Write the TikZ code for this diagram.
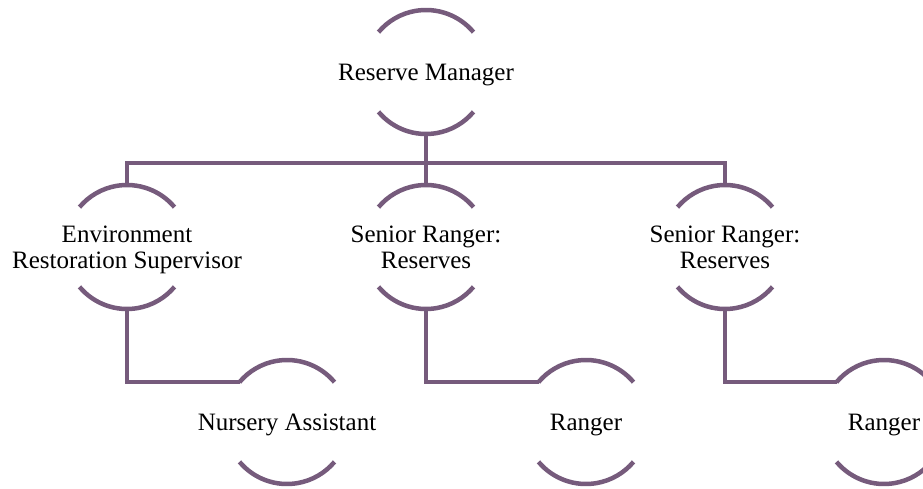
\documentclass[tikz,border=0pt]{standalone}
\usepackage{fontspec}
\setmainfont{Liberation Serif}
\usepackage{xcolor}
\usepackage{tikz}
\usetikzlibrary{positioning}

\definecolor{chartpurple}{RGB}{118,91,124}

\begin{document}
\begin{tikzpicture}
      [ x=1pt, y=1pt, on grid,
        role/.style={align=center, inner sep=0pt, text depth=0pt,
                     font=\fontsize{25}{26}\selectfont},
        ring/.style={draw=chartpurple, line width=4.5pt},
        link/.style={draw=chartpurple, line width=4.5pt}
      ]
      \useasboundingbox (0,0) rectangle (923,488);

      \node[role]  (rm)  at (426,416)                   {Reserve Manager};
      \node[role]  (sr1) [below=175pt of rm]            {Senior Ranger:\\Reserves};
      \node[role]  (ers) [left=299pt of sr1]            {Environment\\Restoration Supervisor};
      \node[role]  (sr2) [right=299pt of sr1]           {Senior Ranger:\\Reserves};
      \node[role]  (na)  [below right=175pt and 160pt of ers] {Nursery Assistant};
      \node[role]  (rg1) [below right=175pt and 160pt of sr1] {Ranger};
      \node[role]  (rg2) [below right=175pt and 159pt of sr2] {Ranger};

      % open circles round every role
      \foreach \n in {rm,ers,sr1,sr2,na,rg1,rg2}
        {
          \draw[ring] ([shift={(40:62pt)}]\n.center)  arc[start angle=40,  end angle=140, radius=62pt];
          \draw[ring] ([shift={(220:62pt)}]\n.center) arc[start angle=220, end angle=320, radius=62pt];
        }

      \coordinate (bus) at ([yshift=84pt]sr1.center);

      \draw[link] ([yshift=-62pt]rm.center)  -- (bus);
      \draw[link] ([yshift=62pt]ers.center)  |- (bus) -| ([yshift=62pt]sr2.center);
      \draw[link] ([yshift=62pt]sr1.center)  -- (bus);
      \draw[link] ([yshift=-62pt]ers.center) |- ([shift={(140:62pt)}]na.center);
      \draw[link] ([yshift=-62pt]sr1.center) |- ([shift={(140:62pt)}]rg1.center);
      \draw[link] ([yshift=-62pt]sr2.center) |- ([shift={(140:62pt)}]rg2.center);
    \end{tikzpicture}
\end{document}
